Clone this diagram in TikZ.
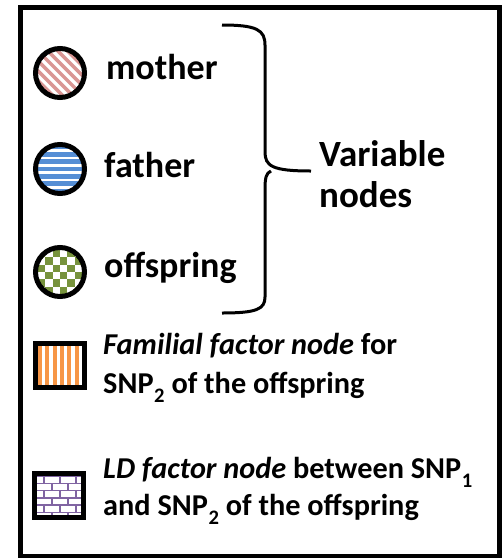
\documentclass[tikz,border=0pt]{standalone}
\usepackage{fontspec}
\setmainfont{Carlito}
\definecolor{momcol}{HTML}{D99694}
\definecolor{dadcol}{HTML}{558ED5}
\definecolor{kidcol}{HTML}{77933C}
\definecolor{famcol}{HTML}{F79646}
\definecolor{ldcol}{HTML}{8064A2}
% lowered subscript in the style of the legend text
\newcommand{\lowsub}[1]{\kern0.02em\raisebox{-0.3em}{\scalebox{0.68}{#1}}}
\tikzset{
  lbl/.style={anchor=base west, inner sep=0pt, font=\fontsize{36}{40}\selectfont\bfseries},
  biglbl/.style={anchor=base west, inner sep=0pt, font=\fontsize{37}{40}\selectfont\bfseries},
  leglbl/.style={anchor=base west, inner sep=0pt, font=\fontsize{30.3}{34}\selectfont\bfseries},
  ring/.style={line width=5pt},
  boxedge/.style={line width=5pt},
}
\begin{document}
\begin{tikzpicture}[x=1pt,y=-1pt]
\useasboundingbox (0,0) rectangle (504,558);
% outer frame
\draw[line width=5pt] (20.5,7.5) rectangle (499,556);

% mother: diagonal stripes
\begin{scope}
  \clip (60,73) circle[radius=24.5pt];
  \begin{scope}[shift={(60,73)}, rotate=-45]
    \foreach \k in {-4,...,4} \draw[momcol, line width=3.5pt] (-30,\k*7) -- (30,\k*7);
  \end{scope}
\end{scope}
\node[circle, draw, ring, minimum size=49pt, inner sep=0pt] (mom) at (60,73) {};

% father: horizontal stripes
\begin{scope}
  \clip (60,169) circle[radius=24.5pt];
  \foreach \k in {-3,...,3} \draw[dadcol, line width=4.6pt] (30,169+\k*7.3) -- (90,169+\k*7.3);
\end{scope}
\node[circle, draw, ring, minimum size=49pt, inner sep=0pt] (dad) at (60,169) {};

% offspring: checkerboard
\begin{scope}
  \clip (60,272) circle[radius=24.5pt];
  \foreach \i in {-4,...,3} \foreach \j in {-4,...,3} {
    \pgfmathtruncatemacro{\parity}{mod(\i+\j+8,2)}
    \ifnum\parity=0 \fill[kidcol] (60+\i*7.3,272+\j*7.3) rectangle ++(7.3,7.3); \fi
  }
\end{scope}
\node[circle, draw, ring, minimum size=49pt, inner sep=0pt] (kid) at (60,272) {};

\node[lbl] (tmom) at (106,79.5) {mother};
\node[lbl] (tdad) at (104,177) {father};
\node[lbl] (tkid) at (104,277) {offspring};

% brace grouping the variable nodes
\coordinate (btop) at (222,25);
\coordinate (btip) at (311,171);
\coordinate (bbot) at (222,313);
\draw[line width=3pt, line join=round]
  (btop) .. controls (257,25) and (265,30) .. (265,45) -- (265,152)
  .. controls (265,166) and (272,171) .. (btip);
\draw[line width=3pt, line join=round]
  (271,171) .. controls (266,173) and (265,178) .. (265,190) -- (265,297)
  .. controls (265,309) and (257,313) .. (bbot);
\node[biglbl] (tvar1) at (319,166) {Variable};
\node[biglbl] (tvar2) at (319,207) {nodes};

% familial factor: vertical stripes
\begin{scope}
  \clip (35.5,343.5) rectangle (84.5,387.5);
  \foreach \k in {0,...,6} \draw[famcol, line width=4pt] (40+\k*7.3,340) -- (40+\k*7.3,392);
\end{scope}
\draw[boxedge] (35.5,343.5) rectangle (84.5,387.5);
\node[leglbl] (tfam1) at (103,354) {\textit{Familial factor node} for};
\node[leglbl] (tfam2) at (103,393) {SNP\lowsub{2}\ of the offspring};

% LD factor: brick wall
\begin{scope}
  \clip (34.5,473.5) rectangle (83.5,517);
  \foreach \r in {0,...,6} {
    \draw[ldcol, line width=1.6pt] (30,476+\r*7.3) -- (90,476+\r*7.3);
    \pgfmathsetmacro{\off}{mod(\r,2)*8}
    \foreach \c in {0,...,4} \draw[ldcol, line width=1.6pt] (28+\off+\c*16,476+\r*7.3) -- ++(0,7.3);
  }
\end{scope}
\draw[boxedge] (34.5,473.5) rectangle (83.5,517);
\node[leglbl] (tld1) at (103,478) {\textit{LD factor node} between SNP\lowsub{1}};
\node[leglbl] (tld2) at (103,515) {and SNP\lowsub{2}\ of the offspring};
\end{tikzpicture}
\end{document}
